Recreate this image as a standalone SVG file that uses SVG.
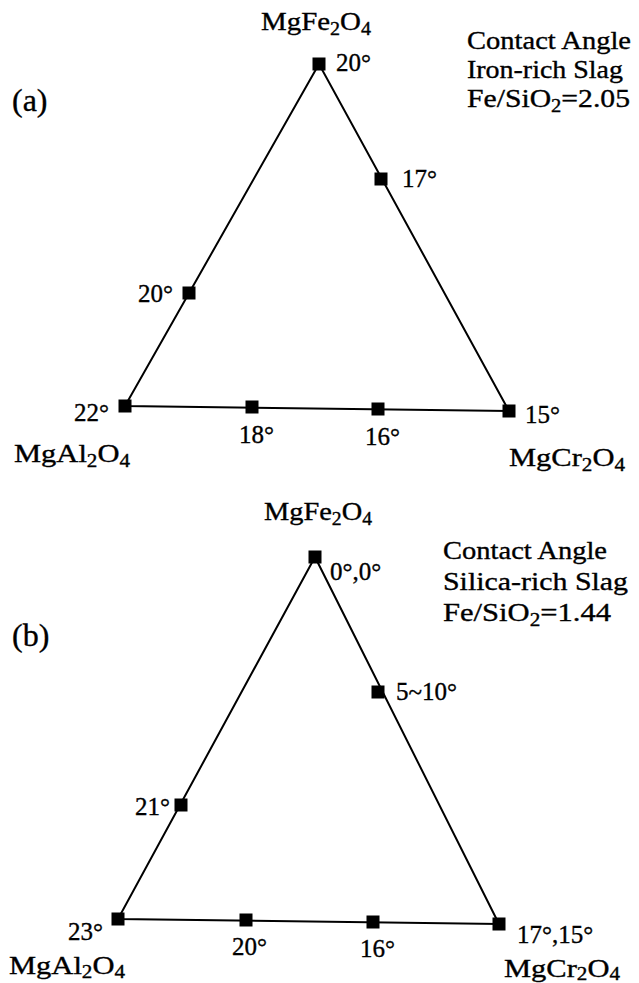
<svg xmlns="http://www.w3.org/2000/svg" width="639" height="983" viewBox="0 0 639 983">
<style>
text{font-family:"Liberation Serif","Times New Roman",serif;fill:#000;stroke:#000;stroke-width:0.35}
.f{font-size:26px}
.d{font-size:25px}
.p{font-size:32px}
.s{font-size:18px}
.e{stroke:#000;stroke-width:2;fill:none}
</style>
<defs><rect id="sq" x="-6.5" y="-6.5" width="13" height="13"/></defs>
<rect width="639" height="983" fill="#fff"/>
<g id="connectors">
<polygon class="e" points="319,64 125,406 509,411"/>
<polygon class="e" points="315,557 118,919 499,924"/>
</g>
<g id="diagram-a">
<g id="a-top"><use href="#sq" x="319" y="64"/><text class="d" x="336" y="71">20°</text></g>
<g id="a-right"><use href="#sq" x="381" y="179"/><text class="d" x="402" y="187">17°</text></g>
<g id="a-left"><use href="#sq" x="189" y="293"/><text class="d" x="138" y="302">20°</text></g>
<g id="a-bl"><use href="#sq" x="125" y="406"/><text class="d" x="74" y="421">22°</text></g>
<g id="a-b1"><use href="#sq" x="252" y="407"/><text class="d" x="239" y="443">18°</text></g>
<g id="a-b2"><use href="#sq" x="378" y="409"/><text class="d" x="365" y="445">16°</text></g>
<g id="a-br"><use href="#sq" x="509" y="411"/><text class="d" x="525" y="423">15°</text></g>
<text class="f" x="261" y="30" textLength="110" lengthAdjust="spacingAndGlyphs">MgFe<tspan class="s" dy="5">2</tspan><tspan dy="-5">O</tspan><tspan class="s" dy="5">4</tspan></text>
<text class="f" x="14" y="462" textLength="116" lengthAdjust="spacingAndGlyphs">MgAl<tspan class="s" dy="5">2</tspan><tspan dy="-5">O</tspan><tspan class="s" dy="5">4</tspan></text>
<text class="f" x="509" y="466" textLength="116" lengthAdjust="spacingAndGlyphs">MgCr<tspan class="s" dy="5">2</tspan><tspan dy="-5">O</tspan><tspan class="s" dy="5">4</tspan></text>
<text class="f" x="467" y="49" textLength="164" lengthAdjust="spacingAndGlyphs">Contact Angle</text>
<text class="f" x="467" y="78" textLength="156" lengthAdjust="spacingAndGlyphs">Iron-rich Slag</text>
<text class="f" x="467" y="107" textLength="163" lengthAdjust="spacingAndGlyphs">Fe/SiO<tspan class="s" dy="5">2</tspan><tspan dy="-5">=2.05</tspan></text>
<text class="p" x="12" y="111">(a)</text>
</g>
<g id="diagram-b">
<g id="b-top"><use href="#sq" x="315" y="557"/><text class="d" x="330" y="580">0°,0°</text></g>
<g id="b-right"><use href="#sq" x="378" y="692"/><text class="d" x="396" y="700">5~10°</text></g>
<g id="b-left"><use href="#sq" x="181" y="805"/><text class="d" x="135" y="815">21°</text></g>
<g id="b-bl"><use href="#sq" x="118" y="919"/><text class="d" x="68" y="940">23°</text></g>
<g id="b-b1"><use href="#sq" x="246" y="920"/><text class="d" x="232" y="955">20°</text></g>
<g id="b-b2"><use href="#sq" x="373" y="922"/><text class="d" x="360" y="957">16°</text></g>
<g id="b-br"><use href="#sq" x="499" y="924"/><text class="d" x="517" y="943">17°,15°</text></g>
<text class="f" x="264" y="520" textLength="108" lengthAdjust="spacingAndGlyphs">MgFe<tspan class="s" dy="5">2</tspan><tspan dy="-5">O</tspan><tspan class="s" dy="5">4</tspan></text>
<text class="f" x="9" y="974" textLength="116" lengthAdjust="spacingAndGlyphs">MgAl<tspan class="s" dy="4">2</tspan><tspan dy="-4">O</tspan><tspan class="s" dy="4">4</tspan></text>
<text class="f" x="504" y="977" textLength="116" lengthAdjust="spacingAndGlyphs">MgCr<tspan class="s" dy="3">2</tspan><tspan dy="-3">O</tspan><tspan class="s" dy="3">4</tspan></text>
<text class="f" x="443" y="559" textLength="164" lengthAdjust="spacingAndGlyphs">Contact Angle</text>
<text class="f" x="443" y="590" textLength="185" lengthAdjust="spacingAndGlyphs">Silica-rich Slag</text>
<text class="f" x="443" y="621" textLength="168" lengthAdjust="spacingAndGlyphs">Fe/SiO<tspan class="s" dy="5">2</tspan><tspan dy="-5">=1.44</tspan></text>
<text class="p" x="12" y="646">(b)</text>
</g>
</svg>
